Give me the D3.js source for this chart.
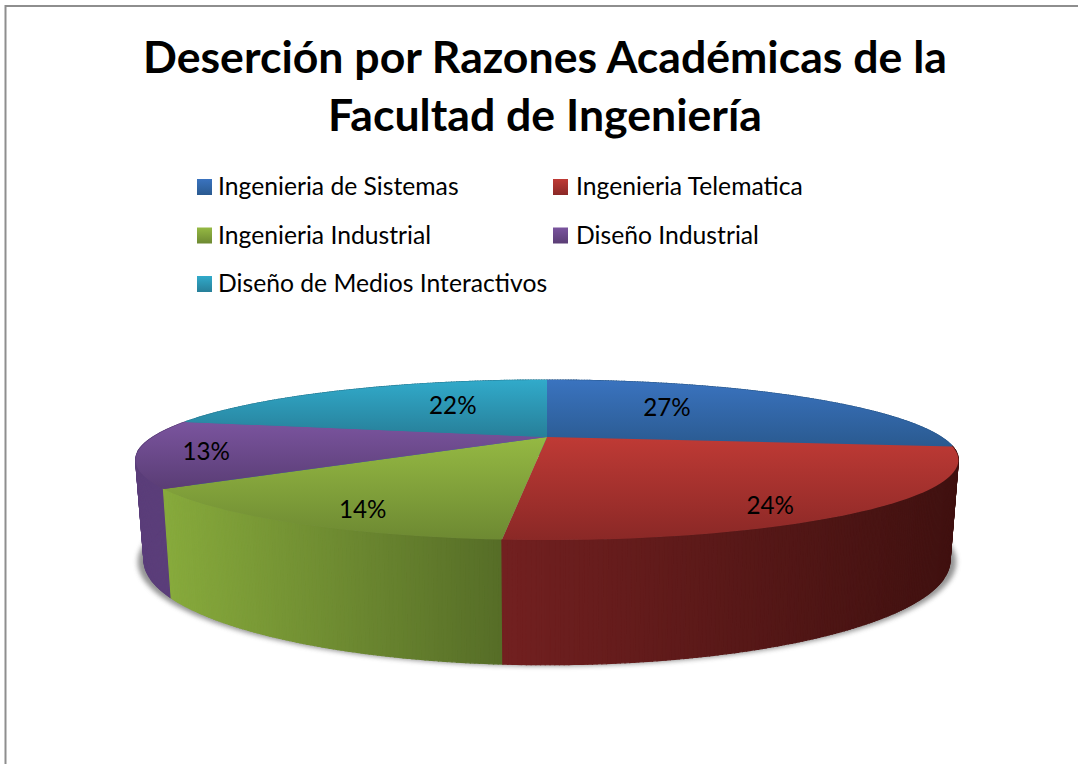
<!DOCTYPE html>
<html><head><meta charset="utf-8">
<script src="https://cdn.jsdelivr.net/npm/d3@7"></script>
<style>html,body{margin:0;padding:0;background:#fff;overflow:hidden}svg{display:block}text{font-family:Lato,"Open Sans",sans-serif;fill:#000}</style>
</head><body><svg id="c" width="1078" height="764"></svg>
<script>
const titleLines = ["Deserción por Razones Académicas de la", "Facultad de Ingeniería"];
const categories = ["Ingenieria de Sistemas", "Ingenieria Telematica", "Ingenieria Industrial", "Diseño Industrial", "Diseño de Medios Interactivos"];
const values = [27, 24.3, 13.7, 13.49, 21.51];
const percentLabels = ["27%", "24%", "14%", "13%", "22%"];
const faceTop = ["#3a73bf", "#bf3a35", "#95b943", "#7a549e", "#31aaca"];
const faceBottom = ["#2a5a90", "#8a2826", "#6d8932", "#5a3d75", "#277f99"];
const wallLeft = ["#2a5a90", "#722020", "#87aa3c", "#5b3e7a", "#277f99"];
const wallRight = ["#2a5a90", "#401110", "#566d27", "#5b3e7a", "#277f99"];
const wallOrder = [4, 0, 3, 2, 1];

const svg = d3.select("#c");
const defs = svg.append("defs");
const f = defs.append("filter").attr("id","blur").attr("x","-5%").attr("y","-20%").attr("width","110%").attr("height","140%");
f.append("feGaussianBlur").attr("stdDeviation",2.4);

// frame
svg.append("path").attr("d","M5.5 764V6H1078").attr("fill","none").attr("stroke","#8e8e8e").attr("stroke-width",2);

// title
svg.selectAll(".t").data(titleLines).join("text").attr("class","t")
  .attr("x",545).attr("y",(d,i)=>72.5+i*58).attr("text-anchor","middle")
  .attr("font-size",44.6).attr("font-weight",700).text(d=>d);

// legend
const legCol = d3.scaleOrdinal().domain([0,1]).range([197,553]);
const legRow = d3.scalePoint().domain([0,1,2]).range([179,276]);
const leg = svg.selectAll(".l").data(categories).join("g").attr("class","l")
  .attr("transform",(d,i)=>`translate(${legCol(i%2)},${legRow(Math.floor(i/2))})`);
categories.forEach((c,i)=>{
  const g = defs.append("linearGradient").attr("id","lg"+i).attr("x1",0).attr("y1",0).attr("x2",0).attr("y2",1);
  g.append("stop").attr("offset",0).attr("stop-color",faceTop[i]);
  g.append("stop").attr("offset",1).attr("stop-color",faceBottom[i]);
});
leg.append("rect").attr("width",15).attr("height",16).attr("fill",(d,i)=>`url(#lg${i})`);
leg.append("text").attr("x",(d,i)=>i%2?23:21).attr("y",16).attr("font-size",24.7).text(d=>d);

// perspective projection of the pie disc
const P = 0.2875;
const rim = (kx,ky,cy)=>(a,r=1)=>{
  const u=r*Math.sin(a), v=-r*Math.cos(a), w=1-P*v;
  return [547+kx*u/w, cy+ky*v/w];
};
const topRim = rim(394,73.4,437), botRim = rim(386,96,530), shadowRim = rim(392,95.5,532);
const arcsData = d3.pie().sort(null).value(d=>d)(values);
const line = d3.line();
const TAU = Math.PI*2;

// shadow
svg.append("path").attr("d",line(d3.range(0,361,2).map(d=>shadowRim(d/360*TAU)))+"Z")
  .attr("fill","#666").attr("opacity",.7).attr("filter","url(#blur)");

// side walls as thin vertical facets
const facets = [];
wallOrder.forEach(i=>{
  const s = arcsData[i];
  const n = Math.max(2,Math.round((s.endAngle-s.startAngle)/TAU*720));
  const pts = d3.range(n+1).map(k=>s.startAngle+(s.endAngle-s.startAngle)*k/n);
  const xs = pts.map(a=>topRim(a)[0]);
  const sc = d3.scaleLinear().domain([d3.min(xs),d3.max(xs)]).range([wallLeft[i],wallRight[i]]);
  for(let k=0;k<n;k++){
    const a=pts[k], b=pts[k+1];
    facets.push({path:[topRim(a),topRim(b),botRim(b),botRim(a)],color:sc((topRim(a)[0]+topRim(b)[0])/2)});
  }
});
svg.append("g").selectAll("path").data(facets).join("path")
  .attr("d",d=>line(d.path)+"Z").attr("fill",d=>d.color).attr("stroke",d=>d.color).attr("stroke-width",1.2);

// top faces
arcsData.forEach((s,i)=>{
  const g = defs.append("linearGradient").attr("id","fg"+i).attr("x1",0).attr("y1",0).attr("x2",0).attr("y2",1);
  g.append("stop").attr("offset",0).attr("stop-color",faceTop[i]);
  g.append("stop").attr("offset",1).attr("stop-color",faceBottom[i]);
});
const facePts = s=>{
  const n=Math.ceil((s.endAngle-s.startAngle)/TAU*240);
  return [topRim(0,0),...d3.range(n+1).map(k=>topRim(s.startAngle+(s.endAngle-s.startAngle)*k/n))];
};
svg.append("g").selectAll("path").data(arcsData).join("path")
  .attr("d",d=>line(facePts(d))+"Z").attr("fill",(d,i)=>`url(#fg${i})`);

// percent labels
const labelRadius = [.44,.749,.77,.84,.418];
const labelShift = [-10,17,11,1,-10];
svg.selectAll(".p").data(arcsData).join("text").attr("class","p")
  .attr("x",(d,i)=>topRim((d.startAngle+d.endAngle)/2,labelRadius[i])[0])
  .attr("y",(d,i)=>topRim((d.startAngle+d.endAngle)/2,labelRadius[i])[1]+labelShift[i])
  .attr("dy",".35em").attr("text-anchor","middle").attr("font-size",24.2)
  .text((d,i)=>percentLabels[i]);
</script></body></html>
